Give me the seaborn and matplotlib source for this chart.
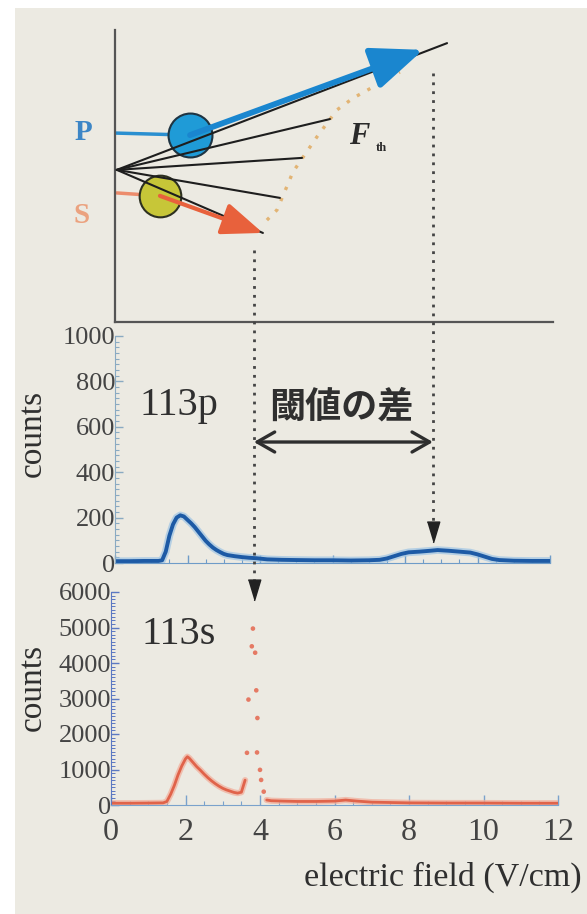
import matplotlib
matplotlib.use("Agg")
import matplotlib.pyplot as plt
import matplotlib.transforms as mtransforms
from matplotlib.patches import Rectangle
from matplotlib.lines import Line2D
from matplotlib.ticker import MultipleLocator
import seaborn as sns

# ---------------- data ----------------
# 113p spectrum (counts vs electric field, V/cm)
p_field = [0.0, 0.4, 0.8, 1.2, 1.3, 1.4, 1.5, 1.6, 1.7, 1.8, 1.9, 2.0, 2.1, 2.2, 2.3,
           2.4, 2.5, 2.6, 2.7, 2.8, 2.9, 3.0, 3.1, 3.3, 3.5, 3.7, 3.9, 4.2, 4.6, 5.0,
           5.5, 6.0, 6.5, 7.0, 7.3, 7.5, 7.7, 7.9, 8.1, 8.4, 8.7, 8.9, 9.2, 9.5, 9.8,
           10.0, 10.2, 10.4, 10.6, 11.0, 11.5, 12.0]
p_counts = [8, 8, 9, 9, 12, 50, 120, 170, 200, 210, 205, 190, 175, 158, 138,
            118, 98, 82, 68, 57, 48, 40, 35, 30, 26, 23, 21, 16, 14, 13,
            12, 12, 11, 12, 14, 20, 30, 40, 47, 50, 54, 57, 54, 50, 46,
            38, 28, 18, 13, 10, 9, 9]

# 113s spectrum
s_rise_field = [0.0, 0.5, 1.0, 1.4, 1.5, 1.6, 1.7, 1.8, 1.9, 2.0, 2.05, 2.1, 2.2, 2.3,
                2.4, 2.5, 2.6, 2.7, 2.8, 2.9, 3.0, 3.1, 3.2, 3.3, 3.4, 3.5, 3.6]
s_rise_counts = [50, 50, 55, 60, 100, 300, 550, 850, 1100, 1300, 1360, 1320, 1200, 1080,
                 980, 870, 770, 680, 600, 530, 470, 425, 390, 355, 335, 360, 700]
s_peak_field = [3.65, 3.69, 3.78, 3.81, 3.87, 3.90, 3.92, 3.93, 4.00, 4.03, 4.10]
s_peak_counts = [1470, 2970, 4470, 4970, 4290, 3230, 1480, 2450, 990, 706, 376]
s_tail_field = [4.18, 4.3, 4.6, 5.0, 5.5, 6.0, 6.3, 6.6, 7.0, 8.0, 9.0, 10.0, 11.0, 12.0]
s_tail_counts = [141, 120, 110, 100, 100, 110, 140, 110, 80, 60, 55, 55, 50, 50]

x_ticks = [0, 2, 4, 6, 8, 10, 12]
p_yticks = [0, 200, 400, 600, 800, 1000]
s_yticks = [0, 1000, 2000, 3000, 4000, 5000, 6000]

# ionisation thresholds (V/cm)
thr_s = 3.83
thr_p = 8.77

# schematic (top diagram) in diagram units
fan_origin = (0.05, 5.21)
fan_end_x = [9.16, 5.93, 5.16, 4.55, 4.08]
fan_end_y = [9.55, 6.95, 5.62, 4.25, 3.05]
p_circle = (2.07, 6.40)
p_start = (0.02, 6.47)
p_tip = (8.50, 9.32)
s_circle = (1.24, 4.32)
s_start = (0.05, 4.42)
s_tip = (4.08, 3.05)
fth_x = [4.19, 4.47, 4.91, 5.57, 6.12, 6.57, 7.12, 7.59, 7.86]
fth_y = [3.49, 3.84, 5.14, 6.34, 7.26, 7.67, 8.05, 8.39, 8.56]

# ---------------- style ----------------
sns.set_style("ticks")
plt.rcParams['font.family'] = ['Liberation Serif', 'DejaVu Sans']

W, H = 587, 914
fig = plt.figure(figsize=(W / 100, H / 100), dpi=100)
fig.patch.set_facecolor('white')
fig.patches.append(Rectangle((15 / W, 0), 1 - 15 / W, 1 - 8 / H, transform=fig.transFigure,
                             facecolor='#eceae2', edgecolor='none', zorder=-10))

def ax_px(l, r, t, b):
    a = fig.add_axes([l / W, 1 - b / H, (r - l) / W, (b - t) / H])
    a.set_facecolor('none')
    return a

ax_top = ax_px(115, 553, 30, 322)
ax_mid = ax_px(115, 550, 336, 563)
ax_bot = ax_px(111, 558, 592, 805)

TXT = '#2f2f2f'
TICKTXT = '#444444'

# ---------------- top diagram ----------------
ax_top.set_xlim(0, 438 / 36.25)
ax_top.set_ylim(0, 10)
ax_top.set_xticks([])
ax_top.set_yticks([])
for sp in ['top', 'right']:
    ax_top.spines[sp].set_visible(False)
for sp in ['left', 'bottom']:
    ax_top.spines[sp].set_color('#555555')
    ax_top.spines[sp].set_linewidth(1.6)

for ex, ey in zip(fan_end_x, fan_end_y):
    ax_top.plot([fan_origin[0], ex], [fan_origin[1], ey], color='#1e1e1e', lw=1.5, zorder=4,
                solid_capstyle='round')
ax_top.plot([p_start[0], p_circle[0]], [p_start[1], p_circle[1]], color='#2a8fd0', lw=2.5, zorder=2)
ax_top.plot([s_start[0], s_circle[0]], [s_start[1], s_circle[1]], color='#ec8c6c', lw=2.5, zorder=2)
ax_top.plot(fth_x, fth_y, color='#e2b474', lw=2.4, ls=(0, (1, 2.6)), zorder=2)
sns.scatterplot(x=[p_circle[0]], y=[p_circle[1]], s=1000, color='#1f9bd7',
                edgecolor='#1f3442', linewidth=1.5, ax=ax_top, zorder=3)
sns.scatterplot(x=[s_circle[0]], y=[s_circle[1]], s=900, color='#c7c638',
                edgecolor='#2d3020', linewidth=1.5, ax=ax_top, zorder=3)
ax_top.annotate('', xy=p_tip, xytext=p_circle,
                arrowprops=dict(arrowstyle='-|>,head_length=1.6,head_width=0.65', lw=4.2,
                                color='#1a86cf', mutation_scale=20, shrinkA=0, shrinkB=0),
                zorder=6)
ax_top.annotate('', xy=s_tip, xytext=s_circle,
                arrowprops=dict(arrowstyle='-|>,head_length=1.4,head_width=0.55', lw=3.0,
                                color='#e8613c', mutation_scale=18, shrinkA=0, shrinkB=0),
                zorder=6)
ax_top.text(-0.88, 6.5, 'P', color='#3d86c6', fontsize=21, fontweight='bold',
            ha='center', va='center', clip_on=False)
ax_top.text(-0.91, 3.66, 'S', color='#eba27f', fontsize=21, fontweight='bold',
            ha='center', va='center', clip_on=False)
ax_top.text(6.45, 6.35, 'F', color='#2a2a2a', fontsize=22, fontweight='bold',
            fontstyle='italic', ha='left', va='center')
ax_top.text(7.2, 5.95, 'th', color='#2a2a2a', fontsize=9, fontweight='bold',
            ha='left', va='center')

# ---------------- middle panel (113p) ----------------
sns.lineplot(x=p_field, y=p_counts, ax=ax_mid, color='#9ec4e4', linewidth=5.5, alpha=0.7)
sns.lineplot(x=p_field, y=p_counts, ax=ax_mid, color='#1d5aa5', linewidth=2.8)
ax_mid.set_xlim(0, 12)
ax_mid.set_ylim(0, 1000)
ax_mid.set_yticks(p_yticks)
ax_mid.set_xticks(x_ticks)
ax_mid.yaxis.set_minor_locator(MultipleLocator(25))
ax_mid.xaxis.set_minor_locator(MultipleLocator(0.5))
for sp in ['top', 'right']:
    ax_mid.spines[sp].set_visible(False)
ax_mid.spines['left'].set_color('#8aaac2')
ax_mid.spines['bottom'].set_color('#6f9cc8')
ax_mid.tick_params(axis='y', which='major', direction='in', length=6, width=1,
                   color='#8aaac2', labelsize=19, labelcolor=TICKTXT, pad=0)
ax_mid.tick_params(axis='y', which='minor', direction='in', length=3, width=0.8, color='#8aaac2')
ax_mid.tick_params(axis='x', which='major', direction='in', length=6, width=1,
                   color='#6f9cc8', labelbottom=False)
ax_mid.tick_params(axis='x', which='minor', direction='in', length=3, width=0.8, color='#6f9cc8')
ax_mid.set_xlabel('')
ax_mid.set_ylabel('')
ax_mid.text(1.77, 696, '113p', fontsize=29, color=TXT, ha='center', va='center')
ax_mid.text((thr_s + thr_p) / 2 - 0.05, 687, '閾値の差', fontsize=26, fontweight='bold', color=TXT,
            family=['Noto Sans CJK JP', 'DejaVu Sans'], ha='center', va='center')
ax_mid.annotate('', xy=(thr_p, 533), xytext=(thr_s, 533),
                arrowprops=dict(arrowstyle='<->,head_length=0.7,head_width=0.4', lw=2.4,
                                color='#2e2e2e', mutation_scale=18, shrinkA=0, shrinkB=0))

# ---------------- bottom panel (113s) ----------------
sns.lineplot(x=s_rise_field, y=s_rise_counts, ax=ax_bot, color='#f2ac98', linewidth=4.5, alpha=0.7)
sns.lineplot(x=s_tail_field, y=s_tail_counts, ax=ax_bot, color='#f2ac98', linewidth=4.5, alpha=0.7)
sns.lineplot(x=s_rise_field, y=s_rise_counts, ax=ax_bot, color='#e0634a', linewidth=2.0)
sns.lineplot(x=s_tail_field, y=s_tail_counts, ax=ax_bot, color='#e0634a', linewidth=2.0)
sns.scatterplot(x=s_peak_field, y=s_peak_counts, ax=ax_bot, color='#e57a64', s=11,
                edgecolor='none')
ax_bot.set_xlim(0, 12)
ax_bot.set_ylim(0, 6000)
ax_bot.set_yticks(s_yticks)
ax_bot.set_xticks(x_ticks)
ax_bot.yaxis.set_minor_locator(MultipleLocator(100))
ax_bot.xaxis.set_minor_locator(MultipleLocator(0.5))
for sp in ['top', 'right']:
    ax_bot.spines[sp].set_visible(False)
ax_bot.spines['left'].set_color('#5b78c2')
ax_bot.spines['bottom'].set_color('#7aa2cc')
ax_bot.tick_params(axis='y', which='major', direction='in', length=6, width=1,
                   color='#5b78c2', labelsize=19, labelcolor=TICKTXT, pad=0)
ax_bot.tick_params(axis='y', which='minor', direction='in', length=3, width=0.7, color='#5b78c2')
ax_bot.tick_params(axis='x', which='major', direction='in', length=7, width=1,
                   color='#7aa2cc', labelsize=23, labelcolor=TICKTXT, pad=9)
ax_bot.tick_params(axis='x', which='minor', direction='in', length=3, width=0.8, color='#7aa2cc')
ax_bot.set_xlabel('')
ax_bot.set_ylabel('')
ax_bot.text(1.83, 4800, '113s', fontsize=29, color=TXT, ha='center', va='center')

# ---------------- labels ----------------
fig.text(33 / W, 1 - 433 / H, 'counts', rotation=90, fontsize=24, color=TXT,
         ha='center', va='center')
fig.text(33 / W, 1 - 687 / H, 'counts', rotation=90, fontsize=24, color=TXT,
         ha='center', va='center')
fig.text(582 / W, 1 - 877 / H, 'electric field (V/cm)', fontsize=24.5, color=TXT,
         ha='right', va='center')

# ---------------- threshold guide lines ----------------
trans = mtransforms.blended_transform_factory(ax_mid.transData, fig.transFigure)
tri = [(-0.6, 1.0), (0.6, 1.0), (0.0, -1.0)]
for thr, y0, y1 in [(thr_s, 250, 586), (thr_p, 73, 528)]:
    fig.add_artist(Line2D([thr, thr], [1 - y0 / H, 1 - y1 / H], transform=trans,
                          color='#444444', lw=2.0, ls=(0, (1, 2.2))))
    fig.add_artist(Line2D([thr], [1 - (y1 + 4) / H], transform=trans, marker=tri,
                          markersize=15, color='#222222', ls='none'))

fig.savefig('out.png', dpi=100, facecolor=fig.get_facecolor())
